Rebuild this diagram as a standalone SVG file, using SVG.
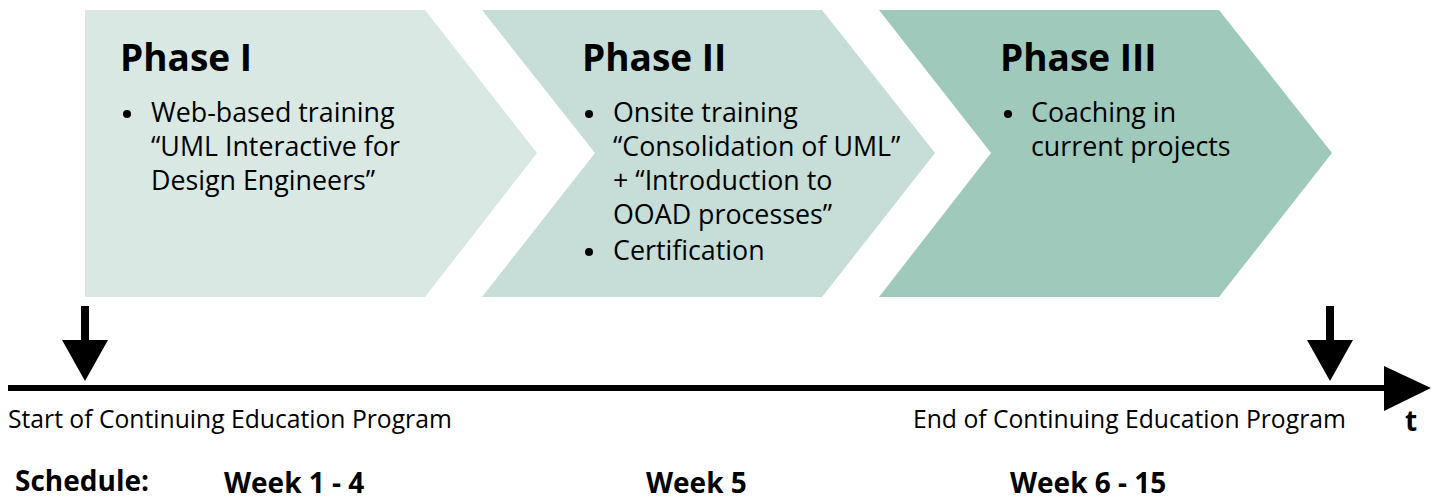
<svg xmlns="http://www.w3.org/2000/svg" width="1431" height="500" viewBox="0 0 1431 500">
<style>
.t{font-family:"Open Sans","Noto Sans",sans-serif;fill:#000}
.h{font-size:37px;font-weight:700}
.b{font-size:26.8px}
.l{font-size:24.7px}
.s{font-size:28px;font-weight:700}
</style>
<rect width="1431" height="500" fill="#fff"/>
<g id="phase1">
<polygon points="85,10 425,10 537,153 425,297 85,297" fill="#d9e8e3"/>
<text class="t h" x="120" y="71">Phase I</text>
<circle cx="127" cy="114" r="4"/>
<text class="t b" x="151" y="122">Web-based training</text>
<text class="t b" x="151" y="156">“UML Interactive for</text>
<text class="t b" x="151" y="190">Design Engineers”</text>
</g>
<g id="phase2">
<polygon points="482,10 822,10 935,153 822,297 482,297 595,153" fill="#c6ded7"/>
<text class="t h" x="582" y="71">Phase II</text>
<circle cx="589" cy="114" r="4"/>
<text class="t b" x="613" y="122">Onsite training</text>
<text class="t b" x="613" y="156">“Consolidation of UML”</text>
<text class="t b" x="613" y="190">+ “Introduction to</text>
<text class="t b" x="613" y="224">OOAD processes”</text>
<circle cx="589" cy="252" r="4"/>
<text class="t b" x="613" y="260">Certification</text>
</g>
<g id="phase3">
<polygon points="879,10 1219,10 1332,153 1219,297 879,297 991,153" fill="#9fc9bb"/>
<text class="t h" x="1000" y="71">Phase III</text>
<circle cx="1008" cy="114" r="4"/>
<text class="t b" x="1031" y="122">Coaching in</text>
<text class="t b" x="1031" y="156">current projects</text>
</g>
<g id="connectors">
<rect x="8" y="385" width="1378" height="6" fill="#000"/>
<polygon points="1384,366 1431,388 1384,411" fill="#000"/>
<rect x="81" y="306" width="8" height="36" fill="#000"/>
<polygon points="62,340 108,340 85,381" fill="#000"/>
<rect x="1326" y="306" width="8" height="36" fill="#000"/>
<polygon points="1307,340 1353,340 1330,381" fill="#000"/>
</g>
<g id="labels">
<text class="t l" x="8" y="428">Start of Continuing Education Program</text>
<text class="t l" x="913" y="428">End of Continuing Education Program</text>
<text class="t s" x="1405" y="431">t</text>
<text class="t s" x="15" y="491">Schedule:</text>
<text class="t s" x="224" y="493">Week 1 - 4</text>
<text class="t s" x="646" y="493">Week 5</text>
<text class="t s" x="1010" y="493">Week 6 - 15</text>
</g>
</svg>
